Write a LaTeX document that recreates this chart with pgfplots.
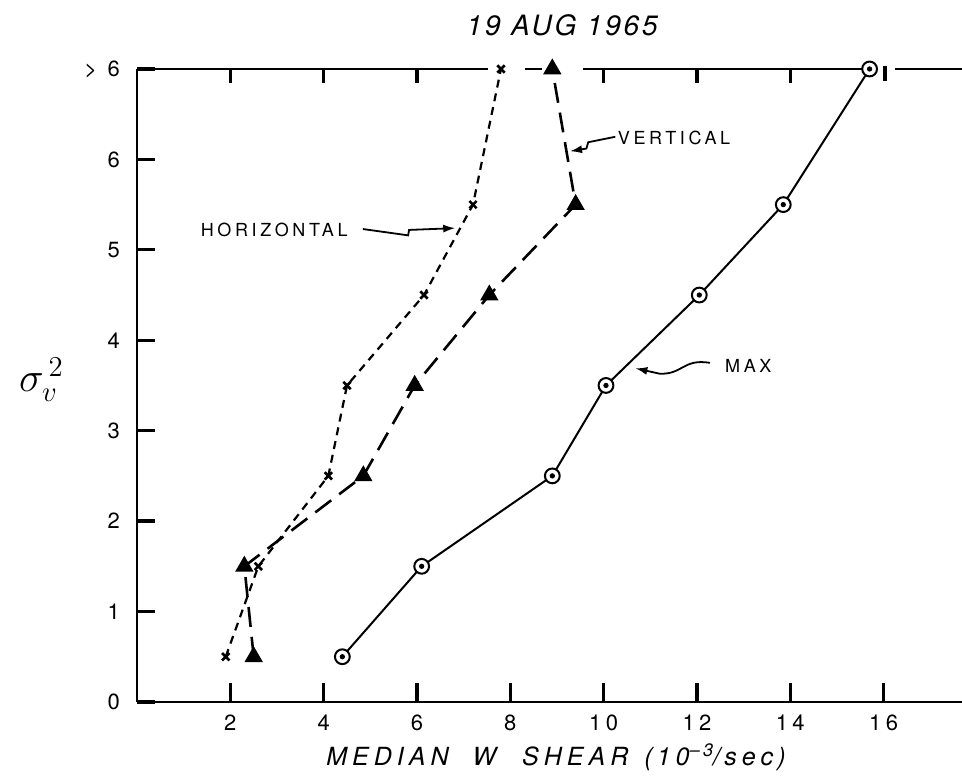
\documentclass[border=0pt]{standalone}
\usepackage{fontspec}
\setmainfont{TeX Gyre Heros}
\newfontfamily\lsp[LetterSpace=20]{TeX Gyre Heros}
\newfontfamily\tsp[LetterSpace=10]{TeX Gyre Heros}
\newcommand\tl{\lsp\fontsize{11}{12}\selectfont}
\usepackage{pgfplots}
\usepackage{pgfplotstable}
\pgfplotsset{compat=1.18}
\usetikzlibrary{arrows.meta}

\pgfplotstableread{
x y
1.9 0.5
2.6 1.5
4.1 2.5
4.5 3.5
6.15 4.5
7.2 5.5
7.8 7
}\horiz

\pgfplotstableread{
x y
2.5 0.5
2.3 1.5
4.85 2.5
5.95 3.5
7.55 4.5
9.4 5.5
8.9 7
}\vertd

\pgfplotstableread{
x y
4.4 0.5
6.1 1.5
8.9 2.5
10.05 3.5
12.05 4.5
13.85 5.5
15.7 7
}\maxd

\begin{document}
\begin{tikzpicture}
\begin{axis}[
  scale only axis, width=412.5pt, height=316.5pt,
  xmin=0, xmax=17.68, ymin=0, ymax=7,
  axis lines=left, axis line style={-, line width=1.2pt},
  clip=false,
  xtick={2,4,6,8,10,12,14,16},
  xticklabels={\tl 2,\tl 4,\tl 6,\tl 8,\tl 10,\tl 12,\tl 14,\tl 16},
  ytick={0,1,2,3,4,5,6,7},
  yticklabels={\tl 0,\tl 1,\tl 2,\tl 3,\tl 4,\tl 5,\tl 6,{\tl > 6}},
  tick align=inside, major tick length=9pt,
  tick style={line width=1.6pt, black},
  xticklabel style={yshift=-3pt},
  yticklabel style={xshift=-5pt},
]
% top frame line with gaps
\draw[line width=1.2pt] (axis cs:0,7) -- (axis cs:7.52,7);
\draw[line width=1.2pt] (axis cs:8.32,7) -- (axis cs:8.68,7);
\draw[line width=1.2pt] (axis cs:9.56,7) -- (axis cs:15.55,7);
\draw[line width=1.2pt] (axis cs:16.25,7) -- (axis cs:17.68,7);
% top ticks
\draw[line width=1.6pt] (axis cs:2,7.01) -- (axis cs:2,6.84);
\draw[line width=1.6pt] (axis cs:4,7.01) -- (axis cs:4,6.84);
\draw[line width=1.6pt] (axis cs:6,7.01) -- (axis cs:6,6.84);
\draw[line width=1.6pt] (axis cs:10,7.01) -- (axis cs:10,6.84);
\draw[line width=1.6pt] (axis cs:12,7.01) -- (axis cs:12,6.84);
\draw[line width=1.6pt] (axis cs:14,7.01) -- (axis cs:14,6.84);
\draw[line width=1.6pt] (axis cs:16.03,7.03) -- (axis cs:16.03,6.87);
% bottom ticks
\draw[line width=1.6pt] (axis cs:2,-0.01) -- (axis cs:2,0.21);
\draw[line width=1.6pt] (axis cs:4,-0.01) -- (axis cs:4,0.21);
\draw[line width=1.6pt] (axis cs:6,-0.01) -- (axis cs:6,0.21);
\draw[line width=1.6pt] (axis cs:8,-0.01) -- (axis cs:8,0.21);
\draw[line width=1.6pt] (axis cs:10,-0.01) -- (axis cs:10,0.21);
\draw[line width=1.6pt] (axis cs:12,-0.01) -- (axis cs:12,0.21);
\draw[line width=1.6pt] (axis cs:14,-0.01) -- (axis cs:14,0.21);
\draw[line width=1.6pt] (axis cs:16,-0.01) -- (axis cs:16,0.21);

\addplot[black, line width=1.1pt, dash pattern=on 4pt off 3pt,
  mark=x, mark size=2.6pt, mark options={solid, line width=1.3pt}] table {\horiz};
\addplot[black, line width=1.3pt, dash pattern=on 10pt off 5pt,
  mark=triangle*, mark size=4pt, mark options={solid}] table {\vertd};
\addplot[black, line width=1pt,
  mark=*, mark size=3.7pt, mark options={solid, fill=white, line width=1pt}] table {\maxd};
\addplot[black, only marks, mark=*, mark size=1.1pt] table {\maxd};

% annotations
\node[font=\lsp\fontsize{9}{10}\selectfont] at (axis cs:2.94,5.22) {HORIZONTAL};
\draw[line width=0.9pt, -{Latex[length=6pt,width=4pt]}]
  (axis cs:4.84,5.23) -- (axis cs:5.81,5.16) -- (axis cs:5.83,5.22) -- (axis cs:6.82,5.24);

\node[font=\lsp\fontsize{9}{10}\selectfont] at (axis cs:11.51,6.24) {VERTICAL};
\draw[line width=0.9pt, -{Latex[length=6pt,width=4pt]}]
  (axis cs:10.25,6.25) -- (axis cs:9.67,6.19) -- (axis cs:9.63,6.12) -- (axis cs:9.28,6.09);

\node[font=\lsp\fontsize{9}{10}\selectfont] at (axis cs:13.1,3.72) {MAX};
\draw[line width=0.9pt, -{Latex[length=6pt,width=4pt]}]
  (axis cs:12.28,3.75) .. controls (axis cs:11.7,3.8) and (axis cs:11.7,3.62) .. (axis cs:11.2,3.63) -- (axis cs:10.68,3.69);

% title and labels
\node[font=\tsp\itshape\fontsize{14}{16}\selectfont] at (axis cs:9.11,7.48) {19 AUG 1965};
\node[font=\lsp\itshape\fontsize{12.5}{14}\selectfont] at (axis cs:8.98,-0.61)
  {MEDIAN\hspace{12pt}W\hspace{13pt}SHEAR\hspace{8pt}(\,10\raisebox{0.7ex}{\fontsize{9}{9}\selectfont \textendash3}/\,sec\,)};
\node[font=\fontsize{22}{26}\selectfont] at (axis cs:-2.05,3.56) {$\sigma_{v}^{\,2}$};

\coordinate (BL) at (axis cs:-2.937,-0.851);
\coordinate (TR) at (axis cs:17.68,7.763);
\end{axis}
\pgfresetboundingbox
\path[use as bounding box] (BL) rectangle (TR);
\end{tikzpicture}
\end{document}
